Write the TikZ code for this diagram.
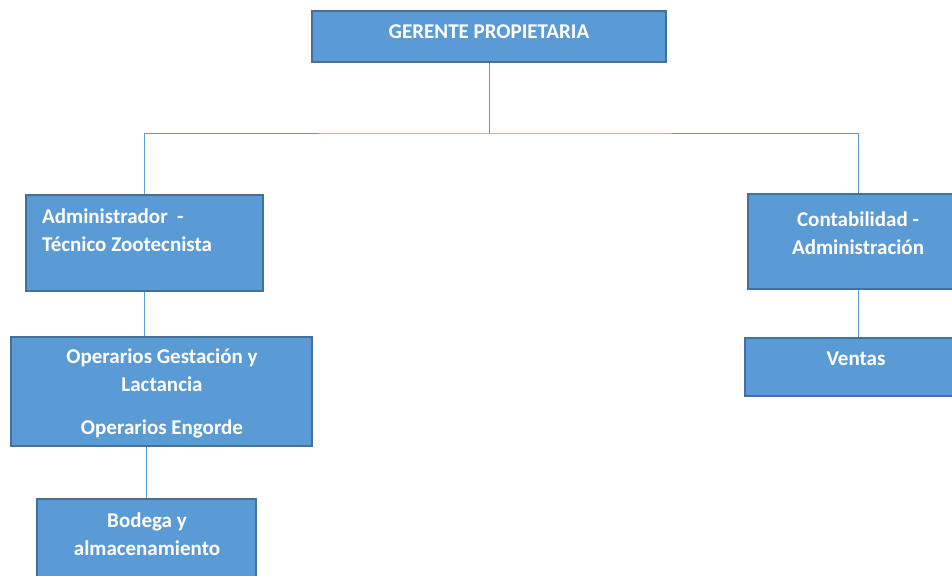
\documentclass[tikz,border=0pt]{standalone}
\usepackage{fontspec}
\setmainfont{Carlito}
\definecolor{boxfill}{HTML}{5B9BD5}
\definecolor{boxline}{HTML}{41719C}
\begin{document}
\begin{tikzpicture}[x=1pt,y=-1pt,
    box/.style={draw=boxline,line width=1.6pt,fill=boxfill,inner sep=0pt},
    txt/.style={text=white,font=\fontsize{21}{28}\selectfont\bfseries,align=center,inner sep=0pt},
    link/.style={draw=boxfill,line width=0.9pt}]
        \useasboundingbox (0,0) rectangle (952,575);
        \clip (0,0) rectangle (952,575);
        \node[box,minimum width=354pt,minimum height=51pt] (ger) at (489,36.5) {};
        \node[box,minimum width=237pt,minimum height=96pt] (adm) at (144.5,243) {};
        \node[box,minimum width=220pt,minimum height=95pt] (con) at (858,241.5) {};
        \node[box,minimum width=301pt,minimum height=109pt] (ope) at (161.5,391.5) {};
        \node[box,minimum width=222pt,minimum height=58pt] (ven) at (856,367) {};
        \node[box,minimum width=219pt,minimum height=96pt] (bod) at (146.5,547) {};
        \node[txt] (gertxt) at (489,32) {GERENTE PROPIETARIA};
        \node[txt,align=left,anchor=west] (admtxt) at (42,230.5) {Administrador\ \ -\\Técnico Zootecnista};
        \node[txt] (contxt) at (858,233) {Contabilidad -\\Administración};
        \node[txt] (opetxt) at (162,393) {Operarios Gestación y\\Lactancia\\[15pt]Operarios Engorde};
        \node[txt] (ventxt) at (856,358.5) {Ventas};
        \node[txt] (bodtxt) at (147,534) {Bodega y\\almacenamiento};
        \coordinate (bus) at (489,133);
        \draw[link] (ger.south) -- (bus);
        \draw[link] (adm.north) |- (bus) -| (con.north);
        \draw[link] (adm.south) -- (adm.south |- ope.north);
        \draw[link] (bod.north) -- (bod.north |- ope.south);
        \draw[link] (con.south) -- (con.south |- ven.north);
    \end{tikzpicture}
\end{document}
